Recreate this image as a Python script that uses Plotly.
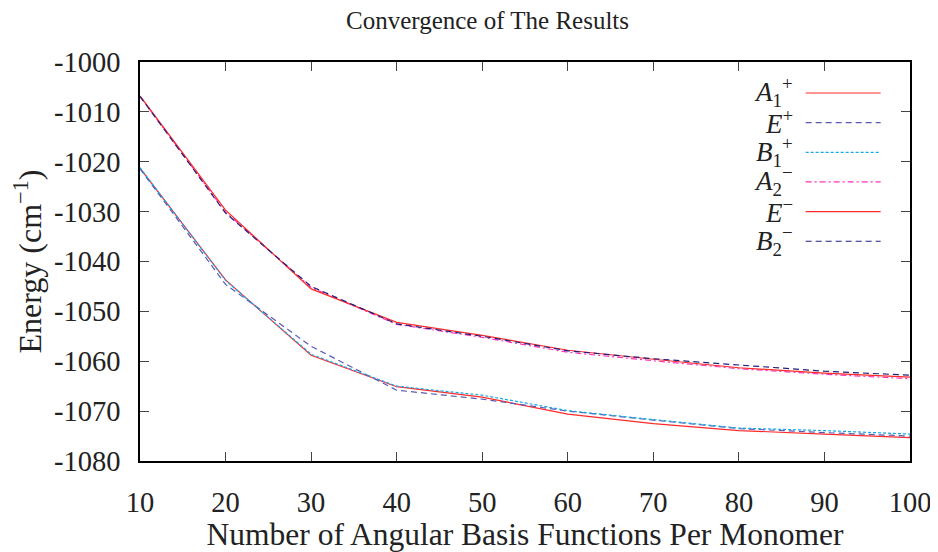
import plotly.graph_objects as go

x_vals = [10, 20, 30, 40, 50, 60, 70, 80, 90, 100]

# Lower group (A1+, E+, B1+)
a1_plus = [-1021.3, -1043.7, -1058.8, -1065.1, -1067.2, -1070.6, -1072.5, -1073.9, -1074.6, -1075.3]
e_plus  = [-1021.4, -1044.6, -1057.0, -1065.8, -1067.6, -1070.0, -1071.8, -1073.5, -1074.3, -1075.0]
b1_plus = [-1021.2, -1043.8, -1058.6, -1065.0, -1066.8, -1069.9, -1071.7, -1073.4, -1073.9, -1074.6]

# Upper group (A2-, E-, B2-)
a2_minus = [-1006.9, -1030.1, -1045.2, -1052.6, -1055.2, -1058.2, -1059.9, -1061.5, -1062.6, -1063.5]
e_minus  = [-1006.8, -1029.7, -1045.5, -1052.2, -1054.8, -1057.8, -1059.6, -1061.3, -1062.4, -1063.2]
b2_minus = [-1006.9, -1030.3, -1045.0, -1052.5, -1055.0, -1057.9, -1059.5, -1060.8, -1062.0, -1062.8]

labels = [
    "<i>A</i><sub>1</sub><sup>+</sup>",
    "<i>E</i><sup>+</sup>",
    "<i>B</i><sub>1</sub><sup>+</sup>",
    "<i>A</i><sub>2</sub><sup>−</sup>",
    "<i>E</i><sup>−</sup>",
    "<i>B</i><sub>2</sub><sup>−</sup>",
]

y_ticks = [-1000, -1010, -1020, -1030, -1040, -1050, -1060, -1070, -1080]
y_ticktext = [str(v) for v in y_ticks]
x_ticks = [10, 20, 30, 40, 50, 60, 70, 80, 90, 100]
x_ticktext = [str(v) for v in x_ticks]

FONT = "Liberation Serif, DejaVu Serif, serif"

styles = [
    ("#ff2a2a", "solid"),
    ("#5a5ab4", "6px,4px"),
    ("#18a8e8", "3px,2px"),
    ("#ff33bb", "6px,3px,2px,3px"),
    ("#ff2a2a", "solid"),
    ("#202080", "6px,4px"),
]
series_values = [a1_plus, e_plus, b1_plus, a2_minus, e_minus, b2_minus]

fig = go.Figure()
for label, ys, (color, dash) in zip(labels, series_values, styles):
    fig.add_trace(go.Scatter(
        x=x_vals, y=ys, mode="lines", name=" ",
        hovertext=label,
        line=dict(color=color, width=1.2, dash=dash),
    ))

# legend labels drawn to the left of the legend line samples
row0 = 0.925
row_step = 0.0748
for i, label in enumerate(labels):
    fig.add_annotation(
        xref="paper", yref="paper", x=0.850, y=row0 - i * row_step,
        xanchor="right", yanchor="middle", text=label, showarrow=False,
        font=dict(family=FONT, size=27, color="#222"),
    )

fig.update_layout(
    width=930, height=544,
    margin=dict(l=132, r=28, t=54, b=91, autoexpand=False),
    paper_bgcolor="white", plot_bgcolor="white",
    font=dict(family=FONT, size=27, color="#222"),
    title=dict(text="Convergence of The Results", x=0.5156, xanchor="center", xref="container",
               y=0.978, yanchor="middle", font=dict(size=25, family=FONT), automargin=False),
    showlegend=True,
    legend=dict(x=0.858, y=0.972, xanchor="left", yanchor="top",
                bgcolor="rgba(255,255,255,0)", font=dict(size=20.5, family=FONT),
                tracegroupgap=0, itemwidth=75),
)
fig.update_xaxes(
    range=[10, 100], tickvals=x_ticks, ticktext=x_ticktext, automargin=False,
    ticks="inside", ticklen=9, tickcolor="#444", mirror="ticks",
    showline=True, linecolor="black", linewidth=1.5, showgrid=False, zeroline=False,
    ticklabelstandoff=15, tickfont=dict(size=28.5, family=FONT),
    title=dict(text="Number of Angular Basis Functions Per Monomer",
               font=dict(size=31.5, family=FONT), standoff=12),
)
fig.update_yaxes(
    range=[-1080, -1000], tickvals=y_ticks, ticktext=y_ticktext, automargin=False,
    ticks="inside", ticklen=9, tickcolor="#444", mirror="ticks",
    showline=True, linecolor="black", linewidth=1.5, showgrid=False, zeroline=False,
    ticklabelstandoff=12, tickfont=dict(size=28.5, family=FONT),
    title=dict(text="Energy (cm<sup>−1</sup>)", font=dict(size=32, family=FONT), standoff=8),
)

fig.write_html("out.html")
